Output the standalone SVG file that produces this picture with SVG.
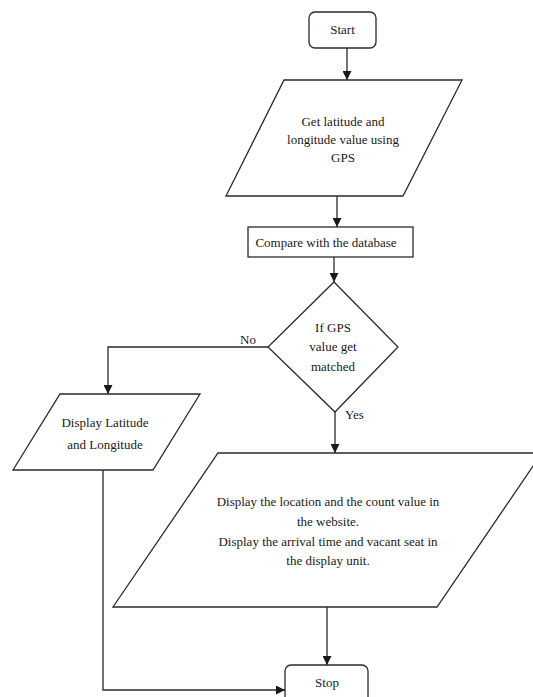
<svg xmlns="http://www.w3.org/2000/svg" width="533" height="697" viewBox="0 0 533 697">
  <style>
    .shape { fill: #ffffff; stroke: #2a2a2a; stroke-width: 1.3; }
    .edge { fill: none; stroke: #2a2a2a; stroke-width: 1.3; }
    text { font-family: "Liberation Serif", "Times New Roman", serif; font-size: 13px; fill: #1a1a1a; text-anchor: middle; }
    .lbl { text-anchor: start; }
  </style>
  <defs>
    <marker id="arrow" viewBox="0 0 10 10" refX="10" refY="5" markerWidth="9" markerHeight="9" markerUnits="userSpaceOnUse" orient="auto">
      <path d="M0,0 L10,5 L0,10 Z" fill="#1a1a1a"/>
    </marker>
  </defs>
  <rect width="533" height="697" fill="#ffffff"/>

  <!-- connectors -->
  <g id="connectors">
    <line class="edge" x1="347" y1="48" x2="347" y2="80" marker-end="url(#arrow)"/>
    <line class="edge" x1="337" y1="196" x2="337" y2="227" marker-end="url(#arrow)"/>
    <line class="edge" x1="334" y1="257" x2="334" y2="282" marker-end="url(#arrow)"/>
    <polyline class="edge" points="268,347 108,347 108,394" marker-end="url(#arrow)"/>
    <line class="edge" x1="335" y1="412" x2="335" y2="453" marker-end="url(#arrow)"/>
    <line class="edge" x1="327" y1="607" x2="327" y2="665" marker-end="url(#arrow)"/>
    <polyline class="edge" points="103,470 103,690 285,690" marker-end="url(#arrow)"/>
    <text class="lbl" x="240" y="344">No</text>
    <text class="lbl" x="345" y="419">Yes</text>
  </g>

  <g id="start">
    <rect class="shape" x="309" y="12" width="67" height="36" rx="6"/>
    <text x="342.5" y="34">Start</text>
  </g>

  <g id="get-gps">
    <polygon class="shape" points="284,80 462,80 403,196 226,196"/>
    <text x="343" y="126">Get latitude and</text>
    <text x="343" y="144">longitude value using</text>
    <text x="343" y="162">GPS</text>
  </g>

  <g id="compare">
    <rect class="shape" x="248" y="227" width="165" height="30"/>
    <text x="326" y="247">Compare with the database</text>
  </g>

  <g id="decision">
    <polygon class="shape" points="334,282 398,347 335,412 268,347"/>
    <text x="333" y="332">If GPS</text>
    <text x="333" y="351">value get</text>
    <text x="333" y="371">matched</text>
  </g>

  <g id="display-latlong">
    <polygon class="shape" points="60,394 200,394 153,470 13,470"/>
    <text x="105" y="427">Display Latitude</text>
    <text x="105" y="449">and Longitude</text>
  </g>

  <g id="display-info">
    <polygon class="shape" points="218,453 542,453 437,607 113,607"/>
    <text x="328" y="506">Display the location and the count value in</text>
    <text x="328" y="526">the website.</text>
    <text x="328" y="546">Display the arrival time and vacant seat in</text>
    <text x="328" y="565">the display unit.</text>
  </g>

  <g id="stop">
    <rect class="shape" x="285" y="665" width="83" height="40" rx="6"/>
    <text x="327" y="687">Stop</text>
  </g>
</svg>
